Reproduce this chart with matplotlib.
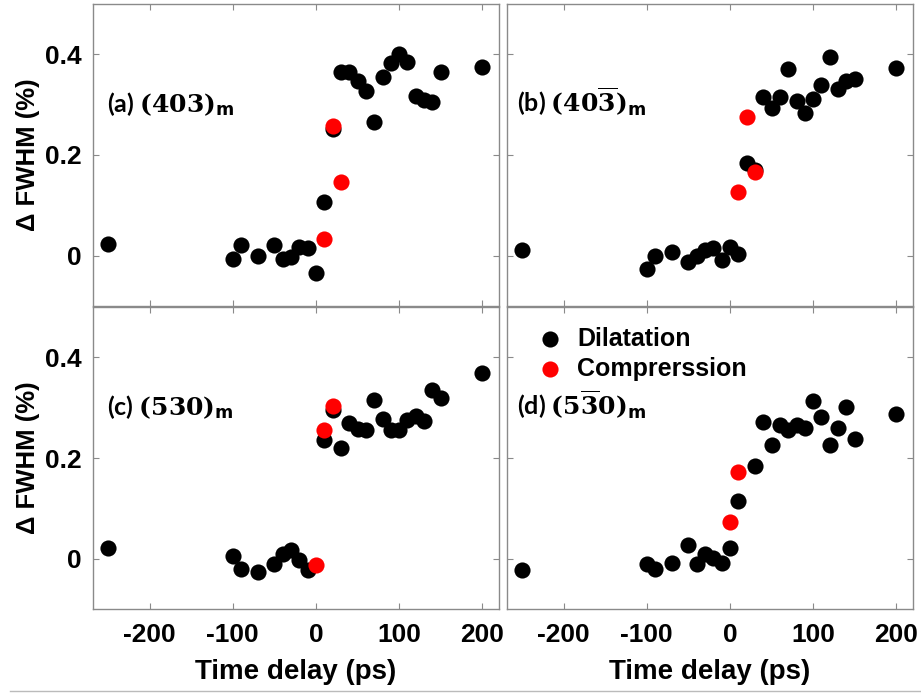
import matplotlib
matplotlib.use("Agg")
import matplotlib.pyplot as plt
from matplotlib.lines import Line2D

plt.rcParams['font.family'] = ['Liberation Sans', 'DejaVu Sans']
plt.rcParams['font.weight'] = 'bold'
plt.rcParams['mathtext.fontset'] = 'dejavuserif'
plt.rcParams['axes.unicode_minus'] = False

# (a) (403)m
a_dil_x = [-250, -100, -90, -70, -50, -40, -30, -20, -10, 0, 10, 20, 30, 40, 50, 60, 70, 80, 90, 100, 110, 120, 130, 140, 150, 200]
a_dil_y = [0.023, -0.007, 0.022, 0.000, 0.022, -0.007, -0.003, 0.018, 0.015, -0.034, 0.106, 0.251, 0.365, 0.365, 0.347, 0.327,
           0.265, 0.355, 0.383, 0.400, 0.385, 0.317, 0.309, 0.306, 0.365, 0.374]
a_cmp_x = [10, 20, 30]
a_cmp_y = [0.034, 0.258, 0.147]

# (b) (40-3)m
b_dil_x = [-250, -100, -90, -70, -50, -40, -30, -20, -10, 0, 10, 20, 30, 40, 50, 60, 70, 80, 90, 100, 110, 120, 130, 140, 150, 200]
b_dil_y = [0.011, -0.026, 0.000, 0.007, -0.013, -0.001, 0.011, 0.015, -0.008, 0.018, 0.004, 0.185, 0.170, 0.316, 0.294, 0.316,
           0.370, 0.308, 0.283, 0.312, 0.339, 0.395, 0.332, 0.347, 0.350, 0.372]
b_cmp_x = [10, 20, 30]
b_cmp_y = [0.127, 0.275, 0.166]

# (c) (530)m
c_dil_x = [-250, -100, -90, -70, -50, -40, -30, -20, -10, 10, 20, 30, 40, 50, 60, 70, 80, 90, 100, 110, 120, 130, 140, 150, 200]
c_dil_y = [0.022, 0.005, -0.021, -0.026, -0.011, 0.009, 0.017, -0.003, -0.022, 0.236, 0.295, 0.220, 0.270, 0.258, 0.255,
           0.316, 0.278, 0.255, 0.255, 0.275, 0.283, 0.274, 0.336, 0.320, 0.368]
c_cmp_x = [0, 10, 20]
c_cmp_y = [-0.013, 0.256, 0.303]

# (d) (5-30)m
d_dil_x = [-250, -100, -90, -70, -50, -40, -30, -20, -10, 0, 10, 30, 40, 50, 60, 70, 80, 90, 100, 110, 120, 130, 140, 150, 200]
d_dil_y = [-0.023, -0.010, -0.021, -0.008, 0.027, -0.011, 0.009, 0.002, -0.008, 0.022, 0.114, 0.185, 0.272, 0.225, 0.265,
           0.256, 0.265, 0.260, 0.314, 0.282, 0.225, 0.260, 0.302, 0.238, 0.288]
d_cmp_x = [0, 10]
d_cmp_y = [0.072, 0.172]

panel_labels = [r"(a) $\mathbf{(403)}_{\mathsf{m}}$",
                r"(b) $\mathbf{(40\overline{3})}_{\mathsf{m}}$",
                r"(c) $\mathbf{(530)}_{\mathsf{m}}$",
                r"(d) $\mathbf{(5\overline{3}0)}_{\mathsf{m}}$"]
xticks = [-200, -100, 0, 100, 200]
yticks = [0, 0.2, 0.4]
ytick_labels = ['0', '0.2', '0.4']

fig = plt.figure(figsize=(9.21, 6.93), dpi=100)
W, H = 921, 693
boxes = [(93, 4), (507, 4), (93, 307), (507, 307)]
aw, ah = 406, 302

data = [(a_dil_x, a_dil_y, a_cmp_x, a_cmp_y),
        (b_dil_x, b_dil_y, b_cmp_x, b_cmp_y),
        (c_dil_x, c_dil_y, c_cmp_x, c_cmp_y),
        (d_dil_x, d_dil_y, d_cmp_x, d_cmp_y)]
label_x = [0.034, 0.025, 0.034, 0.025]

spine_col = '#8a8a8a'
for i, (x0, y0) in enumerate(boxes):
    ax = fig.add_axes([x0 / W, 1 - (y0 + ah) / H, aw / W, ah / H])
    dx, dy, cx, cy = data[i]
    ax.scatter(dx, dy, s=135, color='black', linewidths=0, zorder=3, label='Dilatation')
    ax.scatter(cx, cy, s=135, color='red', linewidths=0, zorder=4, label='Comprerssion')
    ax.set_xlim(-268, 220)
    ax.set_ylim(-0.1, 0.5)
    ax.set_xticks(xticks)
    ax.set_yticks(yticks)
    ax.set_yticklabels(ytick_labels)
    ax.tick_params(direction='in', top=True, right=True, length=4, width=0.8,
                   color=spine_col, labelsize=19, pad=10)
    for sp in ax.spines.values():
        sp.set_color(spine_col)
        sp.set_linewidth(1.0)
    if i < 2:
        ax.tick_params(labelbottom=False)
    else:
        ax.set_xlabel('Time delay (ps)', fontsize=20, fontweight='bold')
        ax.xaxis.set_label_coords(0.5, -0.165)
    if i % 2 == 1:
        ax.tick_params(labelleft=False)
    else:
        ax.tick_params(axis='y', pad=8)
        ax.set_ylabel('\u0394 FWHM (%)', fontsize=18.5, fontweight='bold')
        ax.yaxis.set_label_coords(-0.13, 0.5)
    ax.text(label_x[i], 0.643, panel_labels[i], transform=ax.transAxes,
            fontsize=18, fontweight='bold', family=['Lato', 'DejaVu Sans'],
            ha='left', va='baseline')
    if i == 3:
        ax.legend(loc='upper left', bbox_to_anchor=(0.075, 0.935), frameon=False,
                  fontsize=18, handlelength=1.0, handletextpad=0.6,
                  labelspacing=0.25, borderpad=0, borderaxespad=0)

fig.add_artist(Line2D([10 / W, 1.0], [1 - 691 / H, 1 - 691 / H], color='#bbbbbb', linewidth=1))

fig.savefig('out.png', dpi=100)
